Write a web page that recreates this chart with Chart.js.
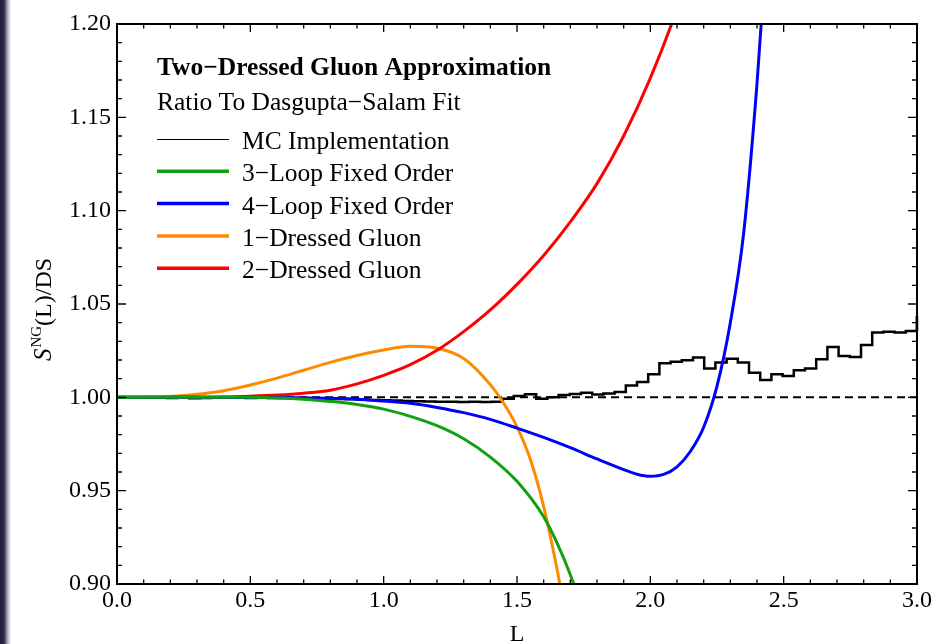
<!DOCTYPE html>
<html>
<head>
<meta charset="utf-8">
<script src="https://cdn.jsdelivr.net/npm/chart.js@4.4.1/dist/chart.umd.min.js"></script>
<style>
  body { margin: 0; background: #fff; }
  #wrap { position: relative; width: 951px; height: 644px; }
  #edge { position: absolute; left: 0; top: 0; width: 11px; height: 644px;
          background: linear-gradient(to right, #20203a 0, #2b2b48 4px, rgba(70,70,100,0.55) 7px, rgba(255,255,255,0) 11px); }
  canvas { position: absolute; left: 0; top: 0; }
</style>
</head>
<body>
<div id="wrap">
  <canvas id="ratioChart" width="951" height="644"></canvas>
  <div id="edge"></div>
</div>
<script>
// MC histogram (bin lower edges start at mcStart, width mcWidth)
const mcStart = -0.024;
const mcWidth = 0.042;
const mcValues = [
  1.0000, 1.0000, 1.0001, 0.9999, 1.0000, 0.9997, 0.9999, 0.9995, 0.9997, 0.9998,
  0.9999, 0.9998, 0.9997, 0.9998, 0.9996, 0.9997, 0.9996, 0.9995, 0.9994, 0.9993,
  0.9991, 0.9990, 0.9988, 0.9986, 0.9984, 0.9983, 0.9980, 0.9979, 0.9978, 0.9976,
  0.9977, 0.9975, 0.9976, 0.9975, 0.9977, 0.9993, 1.0007, 1.0016, 0.9992, 1.0000,
  1.0012, 1.0018, 1.0025, 1.0015, 1.0021, 1.0029, 1.0064, 1.0082, 1.0123, 1.0182,
  1.0191, 1.0198, 1.0213, 1.0154, 1.0186, 1.0207, 1.0186, 1.0132, 1.0093, 1.0123,
  1.0114, 1.0145, 1.0155, 1.0204, 1.0270, 1.0221, 1.0216, 1.0280, 1.0347, 1.0352,
  1.0347, 1.0355, 1.0436
];

// 3-loop fixed order (green)
const loop3L = [0, 0.3, 0.5, 0.6, 0.7, 0.8, 0.9, 1.0, 1.1, 1.2, 1.3, 1.4, 1.5, 1.6, 1.65, 1.7, 1.75];
const loop3S = [1.0, 1.0, 1.0, 0.9997, 0.999, 0.9978, 0.9962, 0.9937, 0.9898, 0.9848, 0.9778, 0.968, 0.955, 0.936, 0.922, 0.905, 0.885];

// 4-loop fixed order (blue)
const loop4L = [0, 0.3, 0.5, 0.7, 0.9, 1.0, 1.1, 1.2, 1.3, 1.4, 1.5, 1.6, 1.7, 1.8, 1.9, 1.95, 2.0, 2.05, 2.1, 2.15, 2.2, 2.25, 2.3, 2.35, 2.4, 2.43];
const loop4S = [1.0, 1.0, 1.0, 0.9997, 0.999, 0.998, 0.9968, 0.9946, 0.9918, 0.9882, 0.9835, 0.9785, 0.973, 0.967, 0.9613, 0.9588, 0.9577, 0.9587, 0.9628, 0.971, 0.984, 1.006, 1.04, 1.088, 1.168, 1.23];

// 1-dressed gluon (orange)
const dressed1L = [0, 0.1, 0.2, 0.3, 0.4, 0.5, 0.6, 0.7, 0.8, 0.9, 1.0, 1.1, 1.2, 1.3, 1.4, 1.45, 1.5, 1.55, 1.6, 1.65, 1.7];
const dressed1S = [1.0, 1.0001, 1.0005, 1.0016, 1.0035, 1.0066, 1.0103, 1.0145, 1.0187, 1.0224, 1.0254, 1.0273, 1.0263, 1.0208, 1.0068, 0.9968, 0.9842, 0.9668, 0.9415, 0.908, 0.868];

// 2-dressed gluon (red)
const dressed2L = [0, 0.2, 0.4, 0.5, 0.6, 0.7, 0.8, 0.9, 1.0, 1.1, 1.2, 1.3, 1.4, 1.5, 1.6, 1.7, 1.8, 1.9, 2.0, 2.1, 2.15];
const dressed2S = [1.0, 1.0, 1.0002, 1.0006, 1.0012, 1.0022, 1.0038, 1.0072, 1.0118, 1.0175, 1.0252, 1.0352, 1.0468, 1.0605, 1.076, 1.094, 1.1145, 1.140, 1.171, 1.208, 1.23];

const referenceL = [0, 3];
const referenceS = [1, 1];

const legendTitle = 'Two\u2212Dressed Gluon Approximation';
const legendSub = 'Ratio To Dasgupta\u2212Salam Fit';

const pts = (xs, ys) => xs.map((x, i) => ({ x: x, y: ys[i] }));

const mcPoints = mcValues.map((v, i) => ({ x: mcStart + i * mcWidth, y: v }));
mcPoints.push({ x: mcStart + mcValues.length * mcWidth, y: mcValues[mcValues.length - 1] });

const serif = '"Liberation Serif", "DejaVu Serif", serif';

const legendItems = [
  { label: 'MC Implementation', color: '#000000', width: 1 },
  { label: '3\u2212Loop Fixed Order', color: '#12a012', width: 3.5 },
  { label: '4\u2212Loop Fixed Order', color: '#0000ff', width: 3.5 },
  { label: '1\u2212Dressed Gluon', color: '#ff8a00', width: 3.5 },
  { label: '2\u2212Dressed Gluon', color: '#ff0000', width: 3.5 }
];

// frame with inward ticks on all four sides
const framePlugin = {
  id: 'frame',
  afterDatasetsDraw(chart) {
    const { ctx, chartArea: a, scales: { x, y } } = chart;
    ctx.save();
    ctx.strokeStyle = '#000';
    ctx.lineWidth = 1.3;
    ctx.beginPath();
    for (let i = 0; i <= 30; i++) {
      const px = x.getPixelForValue(i / 10);
      const len = i % 5 === 0 ? 8 : 4.5;
      ctx.moveTo(px, a.bottom); ctx.lineTo(px, a.bottom - len);
      ctx.moveTo(px, a.top); ctx.lineTo(px, a.top + len);
    }
    for (let i = 0; i <= 30; i++) {
      const py = y.getPixelForValue(0.9 + i / 100);
      const len = i % 5 === 0 ? 9 : 5;
      ctx.moveTo(a.left, py); ctx.lineTo(a.left + len, py);
      ctx.moveTo(a.right, py); ctx.lineTo(a.right - len, py);
    }
    ctx.stroke();
    ctx.lineWidth = 2;
    ctx.strokeRect(a.left, a.top, a.right - a.left, a.bottom - a.top);
    // last MC bin edge sits on the right frame
    const last = mcPoints[mcPoints.length - 1];
    const prev = mcPoints[mcPoints.length - 3];
    ctx.lineWidth = 2.5;
    ctx.beginPath();
    ctx.moveTo(a.right, y.getPixelForValue(prev.y));
    ctx.lineTo(a.right, y.getPixelForValue(last.y));
    ctx.stroke();
    ctx.restore();
  },
  afterDraw(chart) {
    const { ctx, chartArea: a } = chart;
    ctx.save();
    ctx.fillStyle = '#000';
    // x title
    ctx.font = '24px ' + serif;
    ctx.textAlign = 'center';
    ctx.textBaseline = 'alphabetic';
    ctx.fillText('L', (a.left + a.right) / 2, 641);
    // y title with superscript
    ctx.translate(51, (a.top + a.bottom) / 2 + 6);
    ctx.rotate(-Math.PI / 2);
    const fS = 'italic 25px ' + serif, fSup = '15px ' + serif, fRest = '24px ' + serif;
    ctx.font = fS; const wS = ctx.measureText('S').width;
    ctx.font = fSup; const wSup = ctx.measureText('NG').width;
    ctx.font = fRest; const wRest = ctx.measureText('(L)/DS').width;
    let cx = -(wS + wSup + wRest) / 2;
    ctx.textAlign = 'left';
    ctx.font = fS; ctx.fillText('S', cx, 0); cx += wS + 1;
    ctx.font = fSup; ctx.fillText('NG', cx, -10); cx += wSup;
    ctx.font = fRest; ctx.fillText('(L)/DS', cx, 0);
    ctx.restore();

    // legend
    ctx.save();
    ctx.fillStyle = '#000';
    ctx.textAlign = 'left';
    ctx.textBaseline = 'alphabetic';
    ctx.font = 'bold 25.5px ' + serif;
    ctx.fillText(legendTitle, 157, 75);
    ctx.font = '25.5px ' + serif;
    ctx.fillText(legendSub, 157, 110);
    legendItems.forEach((it, i) => {
      const base = 149 + i * 32.3;
      const ly = it.width === 1 ? Math.round(base - 10) + 0.5 : base - 10;
      ctx.strokeStyle = it.color;
      ctx.lineWidth = it.width;
      ctx.beginPath();
      ctx.moveTo(157, ly); ctx.lineTo(229, ly);
      ctx.stroke();
      ctx.fillText(it.label, 242, base);
    });
    ctx.restore();
  }
};

const tickFont = { family: serif, size: 24 };

new Chart(document.getElementById('ratioChart').getContext('2d'), {
  type: 'scatter',
  data: {
    datasets: [
      { label: 'reference', data: pts(referenceL, referenceS), showLine: true, borderColor: '#000', borderWidth: 2, borderDash: [8, 5], pointRadius: 0, order: 6 },
      { label: 'MC Implementation', data: mcPoints, showLine: true, stepped: 'before', borderColor: '#000', borderWidth: 2.5, pointRadius: 0, order: 5 },
      { label: '1-Dressed Gluon', data: pts(dressed1L, dressed1S), showLine: true, cubicInterpolationMode: 'monotone', borderColor: '#ff8a00', borderWidth: 3, pointRadius: 0, order: 4 },
      { label: '2-Dressed Gluon', data: pts(dressed2L, dressed2S), showLine: true, cubicInterpolationMode: 'monotone', borderColor: '#ff0000', borderWidth: 3, pointRadius: 0, order: 3 },
      { label: '4-Loop Fixed Order', data: pts(loop4L, loop4S), showLine: true, cubicInterpolationMode: 'monotone', borderColor: '#0000ff', borderWidth: 3, pointRadius: 0, order: 2 },
      { label: '3-Loop Fixed Order', data: pts(loop3L, loop3S), showLine: true, cubicInterpolationMode: 'monotone', borderColor: '#12a012', borderWidth: 3, pointRadius: 0, order: 1 }
    ]
  },
  options: {
    responsive: false,
    animation: false,
    layout: { padding: { top: 24, right: 34, left: 0, bottom: 0 } },
    plugins: {
      legend: { display: false },
      tooltip: { enabled: false }
    },
    scales: {
      x: {
        type: 'linear', min: 0, max: 3,
        ticks: { stepSize: 0.5, callback: v => v.toFixed(1), font: tickFont, color: '#000', maxRotation: 0, padding: 2 },
        grid: { display: false, drawTicks: false },
        border: { display: false },
        afterFit(s) { s.height = 60; }
      },
      y: {
        type: 'linear', min: 0.9, max: 1.2,
        ticks: { stepSize: 0.05, callback: v => v.toFixed(2), font: tickFont, color: '#000', padding: 6 },
        grid: { display: false, drawTicks: false },
        border: { display: false },
        afterFit(s) { s.width = 117; }
      }
    }
  },
  plugins: [framePlugin]
});
</script>
</body>
</html>
